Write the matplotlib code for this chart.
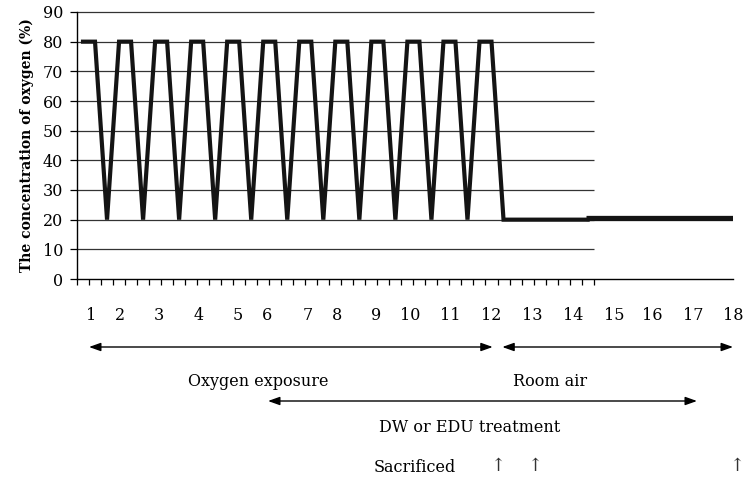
import numpy as np
import matplotlib
matplotlib.use("Agg")
import matplotlib.pyplot as plt
import matplotlib.transforms as mtransforms

plt.rcParams['font.family'] = ['DejaVu Serif']

# oxygen concentration per 8-hour slot (category axis, 43 slots)
cycle = [80, 80, 20]
oxygen = cycle * 12 + [20] * 7
room_air_x = [42.4, 54.6]
room_air_y = [20.7, 20.7]

yticks = [0, 10, 20, 30, 40, 50, 60, 70, 80, 90]
day_labels = [str(d) for d in range(1, 19)]
day_pos = [1.16, 3.58, 6.82, 10.15, 13.4, 15.8, 19.2, 21.6, 24.9, 27.7,
           31.1, 34.5, 37.9, 41.3, 44.7, 47.9, 51.3, 54.6]
sacrificed_pos = [35.0, 38.1, 54.9]

fig = plt.figure(figsize=(7.45, 4.8), dpi=100)
ax = fig.add_axes([77 / 745, 1 - 279 / 480, 656 / 745, 267 / 480])

n = len(oxygen)
x = np.arange(n) + 0.5
ax.hlines(yticks[1:], 0, n, colors='#333333', lw=0.9, clip_on=False, zorder=1)
ax.plot(x, oxygen, color='#141414', lw=3.0, solid_joinstyle='miter', zorder=3)
ax.plot(room_air_x, room_air_y, color='#141414', lw=3.8, solid_capstyle='butt', zorder=3)

ax.set_xlim(0, 54.6)
ax.set_ylim(0, 90)
ax.set_yticks(yticks)
ax.set_xticks(np.arange(n + 1))
ax.set_xticklabels([])
ax.tick_params(axis='y', direction='out', length=5, width=0.9, labelsize=11.5, pad=5)
ax.tick_params(axis='x', direction='out', length=4, width=0.9)
for s in ['top', 'right']:
    ax.spines[s].set_visible(False)
ax.spines['left'].set_linewidth(1.0)
ax.spines['bottom'].set_linewidth(1.0)
ax.set_ylabel('The concentration of oxygen (%)', fontsize=10, fontweight='bold', labelpad=6)


def fy(py):
    return 1 - py / 480


trans = mtransforms.blended_transform_factory(ax.transData, fig.transFigure)

for lab, p in zip(day_labels, day_pos):
    ax.text(p, fy(316), lab, transform=trans, ha='center', va='center', fontsize=11.5)

arrows = [(1.0, 34.6, 347), (35.4, 54.6, 347), (15.9, 51.6, 401)]
for x0, x1, py in arrows:
    ax.annotate('', xy=(x1, fy(py)), xytext=(x0, fy(py)), xycoords=trans, textcoords=trans,
                arrowprops=dict(arrowstyle='<|-|>,head_length=0.7,head_width=0.25',
                                lw=1.0, color='black', shrinkA=0, shrinkB=0),
                annotation_clip=False)

fig.text(258 / 745, fy(381), 'Oxygen exposure', ha='center', va='center', fontsize=11.5)
fig.text(550 / 745, fy(381), 'Room air', ha='center', va='center', fontsize=11.5)
fig.text(470 / 745, fy(427), 'DW or EDU treatment', ha='center', va='center', fontsize=11.5)
fig.text(415 / 745, fy(467), 'Sacrificed', ha='center', va='center', fontsize=11.5)
for p in sacrificed_pos:
    ax.text(p, fy(466), '\u2191', transform=trans, ha='center', va='center',
            fontsize=13, color='#333333', clip_on=False)

fig.savefig('out.png', dpi=100)
